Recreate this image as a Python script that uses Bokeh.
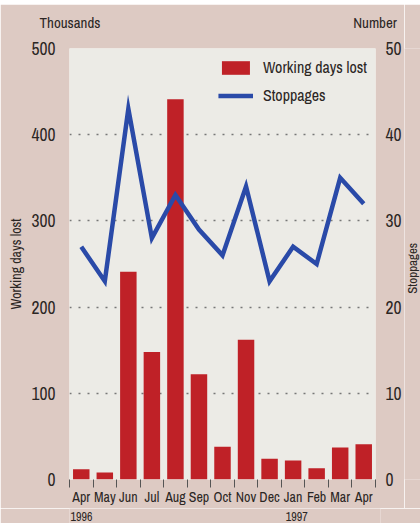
import math
from bokeh.plotting import figure
from bokeh.layouts import column, row
from bokeh.core.properties import value
from bokeh.models import (Range1d, LinearAxis, FixedTicker, Legend, LegendItem,
                          ColumnDataSource)
from bokeh.embed import file_html
from bokeh.resources import INLINE

months = ["Apr", "May", "Jun", "Jul", "Aug", "Sep", "Oct", "Nov", "Dec", "Jan", "Feb", "Mar", "Apr"]
year_pos = [0, 9]
year_text = ["1996", "1997"]
days_lost = [12, 8, 241, 148, 441, 122, 38, 162, 24, 22, 13, 37, 41]   # thousands
stoppages = [27, 23, 43, 28, 33, 29, 26, 34, 23, 27, 25, 35, 32]
left_ticks = [0, 100, 200, 300, 400, 500]
right_ticks = [0, 10, 20, 30, 40, 50]
unit_labels = ["Thousands", "Number"]
left_title = "Working days lost"
right_title = "Stoppages"

FONT = "Archivo Narrow"
TXT = "#2b2624"
BG = "#ddcac3"
PANEL = "#ecebe6"
RED = "#bf2127"
BLUE = "#2a4aa8"

idx = list(range(len(months)))
src = ColumnDataSource(dict(x=idx, days=days_lost, stop=stoppages))
xr = Range1d(-0.5, len(months) - 0.5)

p = figure(width=404, height=504, output_backend="svg", toolbar_location=None,
           x_range=xr, y_range=Range1d(0, 500),
           min_border_left=69, min_border_right=24, min_border_top=44, min_border_bottom=29)
p.background_fill_color = PANEL
p.border_fill_color = BG
p.outline_line_color = None
p.extra_y_ranges = {"stop": Range1d(0, 50)}

bars = p.vbar(x="x", top="days", width=0.7, bottom=0, source=src,
              fill_color=RED, line_color=None)
line = p.line(x="x", y="stop", source=src, y_range_name="stop",
              line_color=BLUE, line_width=4.5, line_join="miter")

p.xgrid.grid_line_color = None
p.ygrid.ticker = FixedTicker(ticks=[100, 200, 300, 400])
p.ygrid.grid_line_color = "#777777"
p.ygrid.grid_line_dash = "2 7"
p.ygrid.grid_line_width = 1.5

# bottom axis: month labels centred on bars, ticks between bars
xa = p.xaxis[0]
xa.ticker = FixedTicker(ticks=idx, minor_ticks=[i - 0.5 for i in range(len(months) + 1)])
xa.major_label_overrides = {i: m for i, m in enumerate(months)}
xa.major_tick_out = 0
xa.major_tick_in = 0
xa.minor_tick_out = 8
xa.minor_tick_in = 0
xa.minor_tick_line_color = "#555555"
xa.axis_line_color = None
xa.major_label_text_font = FONT
xa.major_label_text_font_size = "14px"
xa.major_label_text_color = TXT
xa.major_label_standoff = 0

# top axis carrying the unit captions
ta = LinearAxis(ticker=FixedTicker(ticks=[-0.48, len(months) - 0.52]))
ta.major_label_overrides = {-0.48: unit_labels[0], len(months) - 0.52: unit_labels[1]}
ta.axis_line_color = None
ta.major_tick_line_color = None
ta.minor_tick_line_color = None
ta.major_label_text_font = FONT
ta.major_label_text_font_size = "15px"
ta.major_label_text_color = TXT
ta.major_label_standoff = 10
p.add_layout(ta, "above")

ya = p.yaxis[0]
ya.ticker = FixedTicker(ticks=left_ticks)
ya.axis_line_color = None
ya.major_tick_line_color = None
ya.minor_tick_line_color = None
ya.major_label_text_font = FONT
ya.major_label_text_font_size = "17.5px"
ya.major_label_text_color = TXT
ya.major_label_standoff = 8
ya.axis_label = left_title
ya.axis_label_text_font = FONT
ya.axis_label_text_font_size = "14px"
ya.axis_label_text_font_style = "normal"
ya.axis_label_text_color = TXT
ya.axis_label_standoff = 4

ra = LinearAxis(y_range_name="stop", ticker=FixedTicker(ticks=right_ticks))
ra.axis_line_color = None
ra.major_tick_line_color = None
ra.minor_tick_line_color = None
ra.major_label_text_font = FONT
ra.major_label_text_font_size = "17.5px"
ra.major_label_text_color = TXT
ra.major_label_standoff = 4
p.add_layout(ra, "right")

legend = Legend(items=[LegendItem(label="Working days lost", renderers=[bars]),
                       LegendItem(label="Stoppages", renderers=[line])],
                location="top_right", margin=8, padding=0, spacing=6,
                glyph_width=35, glyph_height=17, label_height=17, label_standoff=10,
                label_text_font=FONT, label_text_font_size="16px",
                label_text_color=TXT, border_line_color=None,
                background_fill_alpha=0)
p.add_layout(legend, "center")


def blank(w, h, color, **kw):
    f = figure(width=w, height=h, output_backend="svg", toolbar_location=None, **kw)
    f.axis.visible = False
    f.grid.visible = False
    f.outline_line_color = None
    f.background_fill_color = color
    f.border_fill_color = color
    return f


# thin red band on top
band = blank(420, 4, "#c0302e", min_border=0, x_range=Range1d(0, 1), y_range=Range1d(0, 1))

# right-hand strip with the rotated axis title (reads bottom to top)
side = blank(16, 504, BG, min_border=0, x_range=Range1d(0, 1), y_range=Range1d(0, 1))
side.text(x=[0.5], y=[0.49], text=[right_title], angle=math.pi / 2,
          text_font=value(FONT), text_font_size="13px", text_color=TXT,
          text_align="center", text_baseline="middle")

# strip under the month labels holding the years, sharing the x range
yr = blank(420, 15, BG, x_range=xr, y_range=Range1d(0, 1),
           min_border_left=69, min_border_right=40, min_border_top=0, min_border_bottom=0)
yr.text(x=year_pos, y=[0.5] * len(year_pos), text=year_text,
        text_font=value(FONT), text_font_size="12px", text_color=TXT,
        text_align="center", text_baseline="middle")

layout = column(band, row(p, side, spacing=0), yr, spacing=0)

open("out.html", "w").write(file_html(layout, INLINE))
